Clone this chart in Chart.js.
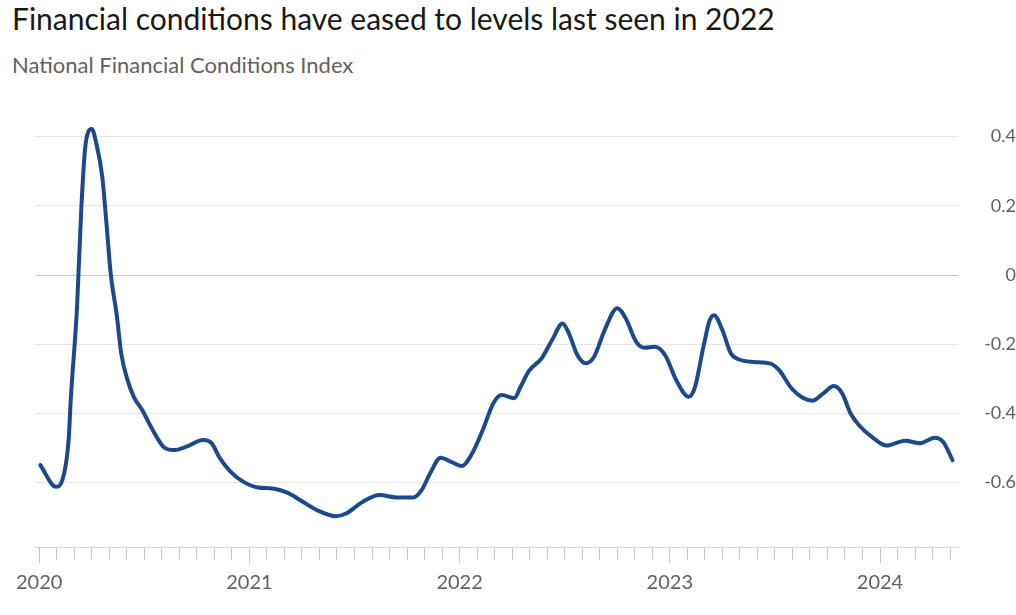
<!DOCTYPE html>
<html>
<head>
<meta charset="utf-8">
<script src="https://cdn.jsdelivr.net/npm/chart.js@4.4.1/dist/chart.umd.min.js"></script>
<style>
  html, body { margin: 0; padding: 0; background: #fff; }
  body { width: 1016px; height: 615px; position: relative; overflow: hidden; font-family: Lato, sans-serif; }
  #title { position: absolute; left: 12px; top: 0px; font-size: 30px; color: #1a1817; white-space: nowrap; }
  #subtitle { position: absolute; left: 12px; top: 51px; font-size: 22px; color: #66605c; white-space: nowrap; }
  #wrap { position: absolute; left: 0; top: 0; width: 1016px; height: 615px; }
</style>
</head>
<body>
<div id="title">Financial conditions have eased to levels last seen in 2022</div>
<div id="subtitle">National Financial Conditions Index</div>
<div id="wrap"><canvas id="myChart"></canvas></div>
<script>
// dates as decimal years
const dates = [
  2020.005, 2020.08, 2020.11, 2020.14, 2020.15, 2020.18, 2020.20, 2020.22, 2020.25, 2020.27,
  2020.30, 2020.32, 2020.34, 2020.37, 2020.39, 2020.42, 2020.45, 2020.49, 2020.54, 2020.59,
  2020.64, 2020.70, 2020.78, 2020.82, 2020.86, 2020.91, 2020.97, 2021.04, 2021.11, 2021.18,
  2021.24, 2021.32, 2021.41, 2021.46, 2021.54, 2021.62, 2021.70, 2021.78, 2021.82, 2021.86,
  2021.91, 2021.96, 2022.01, 2022.06, 2022.11, 2022.16, 2022.20, 2022.26, 2022.29, 2022.33,
  2022.39, 2022.44, 2022.49, 2022.52, 2022.56, 2022.60, 2022.64, 2022.69, 2022.75, 2022.79,
  2022.84, 2022.88, 2022.93, 2022.98, 2023.03, 2023.09, 2023.12, 2023.16, 2023.19, 2023.21,
  2023.25, 2023.29, 2023.33, 2023.40, 2023.48, 2023.52, 2023.58, 2023.63, 2023.68, 2023.73,
  2023.78, 2023.82, 2023.86, 2023.90, 2023.97, 2024.03, 2024.12, 2024.19, 2024.26, 2024.30,
  2024.345
];
const nfci = [
  -0.549, -0.612, -0.593, -0.477, -0.361, -0.092, 0.188, 0.375, 0.422, 0.385,
  0.284, 0.149, 0.005, -0.121, -0.226, -0.303, -0.352, -0.390, -0.448, -0.496,
  -0.506, -0.496, -0.477, -0.486, -0.530, -0.568, -0.597, -0.614, -0.617, -0.629,
  -0.650, -0.679, -0.697, -0.689, -0.655, -0.636, -0.643, -0.643, -0.621, -0.573,
  -0.528, -0.540, -0.552, -0.515, -0.448, -0.371, -0.347, -0.356, -0.323, -0.277,
  -0.241, -0.188, -0.140, -0.169, -0.231, -0.255, -0.236, -0.159, -0.096, -0.125,
  -0.193, -0.210, -0.207, -0.234, -0.303, -0.352, -0.323, -0.207, -0.130, -0.116,
  -0.159, -0.226, -0.244, -0.251, -0.256, -0.275, -0.328, -0.354, -0.363, -0.342,
  -0.321, -0.342, -0.400, -0.434, -0.472, -0.493, -0.479, -0.486, -0.470, -0.482,
  -0.535
];
const yearLabels = ['2020', '2021', '2022', '2023', '2024'];
const yTicks = [-0.6, -0.4, -0.2, 0, 0.2, 0.4];

// monthly tick positions, Jan 2020 to May 2024
const monthTicks = [];
for (let m = 0; m <= 52; m++) monthTicks.push(2020 + m / 12);

const isYear = v => Math.abs(v - Math.round(v)) < 1e-6;

const data = {
  datasets: [{
    label: 'NFCI',
    data: dates.map((d, i) => ({ x: d, y: nfci[i] })),
    borderColor: '#1b4a8c',
    borderWidth: 4,
    pointRadius: 0,
    fill: false,
    cubicInterpolationMode: 'monotone',
    borderCapStyle: 'round',
    borderJoinStyle: 'round'
  }]
};

const config = {
  type: 'line',
  data: data,
  options: {
    responsive: false,
    animation: false,
    layout: { padding: { left: 35, right: 0, top: 110, bottom: 0 } },
    plugins: {
      legend: { display: false },
      tooltip: { enabled: false }
    },
    scales: {
      x: {
        type: 'linear',
        min: 2019.98,
        max: 2024.371,
        afterBuildTicks: scale => { scale.ticks = monthTicks.map(v => ({ value: v })); },
        afterFit: scale => { scale.height = 68; },
        border: { display: true, color: '#d8d4cf', width: 1 },
        grid: {
          drawOnChartArea: false,
          drawTicks: true,
          tickLength: 16,
          tickColor: '#cdc8c3',
          tickWidth: 1,
          tickBorderDash: ctx => (ctx.tick && isYear(ctx.tick.value)) ? [] : [12, 40]
        },
        ticks: {
          autoSkip: false,
          maxRotation: 0,
          padding: 8,
          color: '#66605c',
          font: { family: 'Lato', size: 20 },
          callback: v => isYear(v) ? yearLabels[Math.round(v) - 2020] : ''
        }
      },
      y: {
        position: 'right',
        min: -0.786,
        max: 0.477,
        afterBuildTicks: scale => { scale.ticks = yTicks.map(v => ({ value: v })); },
        afterFit: scale => { scale.width = 58; },
        border: { display: false },
        grid: {
          drawTicks: false,
          color: ctx => (ctx.tick && ctx.tick.value === 0) ? '#cbc6c1' : '#e9e7e4',
          lineWidth: 1
        },
        ticks: {
          padding: 8,
          crossAlign: 'far',
          color: '#66605c',
          font: { family: 'Lato', size: 18 },
          callback: v => String(v)
        }
      }
    }
  }
};

const canvas = document.getElementById('myChart');
canvas.width = 1016;
canvas.height = 615;
canvas.style.width = '1016px';
canvas.style.height = '615px';
new Chart(canvas.getContext('2d'), config);
</script>
</body>
</html>
